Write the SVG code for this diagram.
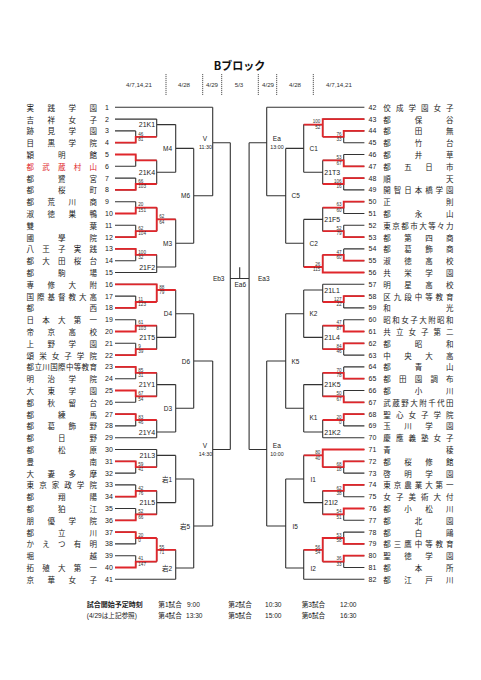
<svg xmlns="http://www.w3.org/2000/svg" width="481" height="680" viewBox="0 0 481 680">
<style>
text{dominant-baseline:central}
.nm{font-family:"Noto Sans CJK JP",sans-serif;font-size:7.5px;fill:#222}
.red{fill:#e0262b}
.no{font-family:"Liberation Sans",Arial,sans-serif;font-size:7px;fill:#222}
.sc{font-family:"Liberation Sans",Arial,sans-serif;font-size:4.6px;fill:#333}
.lb{font-family:"Liberation Sans",Arial,"Noto Sans CJK JP",sans-serif;font-size:7px;fill:#222}
.lb2{font-family:"Liberation Sans",Arial,"Noto Sans CJK JP",sans-serif;font-size:6.5px;fill:#222}
.tm{font-family:"Liberation Sans",Arial,sans-serif;font-size:5.3px;fill:#222}
.dt{font-family:"Liberation Sans",Arial,sans-serif;font-size:6.2px;fill:#333}
.ft{font-family:"Liberation Sans","Noto Sans CJK JP",sans-serif;font-size:6.6px;fill:#222}
.ftb{font-family:"Noto Sans CJK JP",sans-serif;font-size:7px;font-weight:bold;fill:#222}
.e{text-anchor:end}.m{text-anchor:middle}
.k{fill:none;stroke:#333;stroke-width:1.1}
.r{fill:none;stroke:#e0262b;stroke-width:1.8}
.d{fill:none;stroke:#555;stroke-width:1;stroke-dasharray:1.2 0.8}
</style>

<g id="header">
<text x="239.5" y="65" class="m" style="font-family:'Noto Sans CJK JP',sans-serif;font-size:11px;font-weight:bold;fill:#111">Bブロック</text>
<text class="dt m" x="139" y="84.3">4/7,14,21</text>
<text class="dt m" x="184" y="84.3">4/28</text>
<text class="dt m" x="212" y="84.3">4/29</text>
<text class="dt m" x="239" y="84.3">5/3</text>
<text class="dt m" x="268" y="84.3">4/29</text>
<text class="dt m" x="295" y="84.3">4/28</text>
<text class="dt m" x="339" y="84.3">4/7,14,21</text>
<path class="d" d="M166 74V95M202.7 74V95M221.7 74V95M258.3 74V95M276.7 74V95M313.3 74V95"/>
</g>

<g id="connectors">
<path class="k" d="M115 107.3H212.7M115 119.1H156.7M115 130.9H135.7M115 142.7H135.7M115 154.5H135.7M115 166.3H135.7M115 178.1H135.7M115 189.9H135.7M115 201.7H135.7M115 213.5H135.7M115 225.3H135.7M115 237.1H135.7M115 248.9H135.7M115 260.7H135.7M115 272.5H156.7M115 284.3H156.7M115 296.1H135.7M115 307.9H135.7M115 319.7H135.7M115 331.5H135.7M115 343.3H135.7M115 355.1H135.7M115 366.9H135.7M115 378.7H135.7M115 390.5H135.7M115 402.3H135.7M115 414.1H135.7M115 425.9H135.7M115 437.7H156.7M115 449.5H156.7M115 461.3H135.7M115 473.1H135.7M115 484.9H135.7M115 496.7H135.7M115 508.5H135.7M115 520.3H135.7M115 532.1H135.7M115 543.9H135.7M115 555.7H135.7M115 567.5H135.7M115 579.3H175.7"/>
<path class="k" d="M135.7 130.9V142.7M135.7 136.8H156.7M135.7 154.5V166.3M135.7 160.4H156.7M135.7 178.1V189.9M135.7 184H156.7M135.7 201.7V213.5M135.7 207.6H156.7M135.7 225.3V237.1M135.7 231.2H156.7M135.7 248.9V260.7M135.7 254.8H156.7M135.7 296.1V307.9M135.7 302H156.7M135.7 319.7V331.5M135.7 325.6H156.7M135.7 343.3V355.1M135.7 349.2H156.7M135.7 366.9V378.7M135.7 372.8H156.7M135.7 390.5V402.3M135.7 396.4H156.7M135.7 414.1V425.9M135.7 420H156.7M135.7 461.3V473.1M135.7 467.2H156.7M135.7 484.9V496.7M135.7 490.8H156.7M135.7 508.5V520.3M135.7 514.4H156.7M135.7 532.1V543.9M135.7 538H156.7M135.7 555.7V567.5M135.7 561.6H156.7"/>
<path class="k" d="M156.7 119.1V136.8M156.7 124.6H175.7M156.7 160.4V184M156.7 172.2H175.7M156.7 207.6V231.2M156.7 219.4H175.7M156.7 254.8V272.5M156.7 267H175.7M156.7 284.3V302M156.7 290H175.7M156.7 325.6V349.2M156.7 337.4H175.7M156.7 372.8V396.4M156.7 384.6H175.7M156.7 420V437.7M156.7 432H175.7M156.7 449.5V467.2M156.7 455.4H175.7M156.7 490.8V514.4M156.7 502.6H175.7M156.7 538V561.6M156.7 549.8H175.7"/>
<path class="k" d="M175.7 124.6V172.2M175.7 148.4H193.7M175.7 219.4V267M175.7 243.2H193.7M175.7 290V337.4M175.7 313.7H193.7M175.7 384.6V432M175.7 408.3H193.7M175.7 455.4V502.6M175.7 479H193.7M175.7 549.8V579.3M175.7 568H193.7"/>
<path class="k" d="M193.7 148.4V243.2M193.7 195.8H212.7M193.7 313.7V408.3M193.7 361H212.7M193.7 479V568M193.7 526H212.7M212.7 107.3V195.8M212.7 142.7H230.3M212.7 361V526M212.7 449.5H230.3"/>
<path class="k" d="M230.3 142.7V449.5M230.3 278.5H249.1M249.1 142.7V449.5M239.7 267.3V278.5"/>
<path class="k" d="M364.4 107.3H266.7M364.4 119.1H322.7M364.4 130.9H343.7M364.4 142.7H343.7M364.4 154.5H343.7M364.4 166.3H343.7M364.4 178.1H343.7M364.4 189.9H343.7M364.4 201.7H343.7M364.4 213.5H343.7M364.4 225.3H343.7M364.4 237.1H343.7M364.4 248.9H343.7M364.4 260.7H343.7M364.4 272.5H322.7M364.4 284.3H322.7M364.4 296.1H343.7M364.4 307.9H343.7M364.4 319.7H343.7M364.4 331.5H343.7M364.4 343.3H343.7M364.4 355.1H343.7M364.4 366.9H343.7M364.4 378.7H343.7M364.4 390.5H343.7M364.4 402.3H343.7M364.4 414.1H343.7M364.4 425.9H343.7M364.4 437.7H322.7M364.4 449.5H322.7M364.4 461.3H343.7M364.4 473.1H343.7M364.4 484.9H343.7M364.4 496.7H343.7M364.4 508.5H343.7M364.4 520.3H343.7M364.4 532.1H343.7M364.4 543.9H343.7M364.4 555.7H343.7M364.4 567.5H343.7M364.4 579.3H303.7"/>
<path class="k" d="M343.7 130.9V142.7M343.7 136.8H322.7M343.7 154.5V166.3M343.7 160.4H322.7M343.7 178.1V189.9M343.7 184H322.7M343.7 201.7V213.5M343.7 207.6H322.7M343.7 225.3V237.1M343.7 231.2H322.7M343.7 248.9V260.7M343.7 254.8H322.7M343.7 296.1V307.9M343.7 302H322.7M343.7 319.7V331.5M343.7 325.6H322.7M343.7 343.3V355.1M343.7 349.2H322.7M343.7 366.9V378.7M343.7 372.8H322.7M343.7 390.5V402.3M343.7 396.4H322.7M343.7 414.1V425.9M343.7 420H322.7M343.7 461.3V473.1M343.7 467.2H322.7M343.7 484.9V496.7M343.7 490.8H322.7M343.7 508.5V520.3M343.7 514.4H322.7M343.7 532.1V543.9M343.7 538H322.7M343.7 555.7V567.5M343.7 561.6H322.7"/>
<path class="k" d="M322.7 119.1V136.8M322.7 124.6H303.7M322.7 160.4V184M322.7 172.2H303.7M322.7 207.6V231.2M322.7 219.4H303.7M322.7 254.8V272.5M322.7 267H303.7M322.7 284.3V302M322.7 290H303.7M322.7 325.6V349.2M322.7 337.4H303.7M322.7 372.8V396.4M322.7 384.6H303.7M322.7 420V437.7M322.7 432H303.7M322.7 449.5V467.2M322.7 455.4H303.7M322.7 490.8V514.4M322.7 502.6H303.7M322.7 538V561.6M322.7 549.8H303.7"/>
<path class="k" d="M303.7 124.6V172.2M303.7 148.4H285.7M303.7 219.4V267M303.7 243.2H285.7M303.7 290V337.4M303.7 313.7H285.7M303.7 384.6V432M303.7 408.3H285.7M303.7 455.4V502.6M303.7 479H285.7M303.7 549.8V579.3M303.7 568H285.7"/>
<path class="k" d="M285.7 148.4V243.2M285.7 195.8H266.7M285.7 313.7V408.3M285.7 361H266.7M285.7 479V568M285.7 526H266.7M266.7 107.3V195.8M266.7 142.7H249.1M266.7 361V526M266.7 449.5H249.1"/>
<path class="r" d="M115 142.7H135.7V136.8H156.7M115 154.5H135.7V160.4H156.7M115 189.9H135.7V184H156.7M115 213.5H135.7V207.6H156.7M115 237.1H135.7V231.2H156.7M156.7 207.6V231.2M156.7 219.4H175.7M115 248.9H135.7V254.8H156.7M115 284.3H156.7V302M156.7 290H175.7M115 307.9H135.7V302H156.7M115 331.5H135.7V325.6H156.7M115 355.1H135.7V349.2H156.7M115 366.9H135.7V372.8H156.7M115 390.5H135.7V396.4H156.7M115 414.1H135.7V420H156.7M115 461.3H135.7V467.2H156.7M115 496.7H135.7V490.8H156.7M115 520.3H135.7V514.4H156.7M115 532.1H135.7V538H156.7M115 567.5H135.7V561.6H156.7M156.7 538V561.6M156.7 549.8H175.7"/>
<path class="r" d="M364.4 119.1H322.7V136.8M322.7 124.6H303.7M364.4 130.9H343.7V136.8H322.7M364.4 166.3H343.7V160.4H322.7M364.4 178.1H343.7V184H322.7M364.4 201.7H343.7V207.6H322.7M364.4 237.1H343.7V231.2H322.7M364.4 260.7H343.7V254.8H322.7M364.4 272.5H322.7V254.8M322.7 267H303.7M364.4 296.1H343.7V302H322.7M364.4 331.5H343.7V325.6H322.7M364.4 343.3H343.7V349.2H322.7M364.4 378.7H343.7V372.8H322.7M364.4 402.3H343.7V396.4H322.7M364.4 414.1H343.7V420H322.7M364.4 449.5H322.7V467.2M322.7 455.4H303.7M364.4 461.3H343.7V467.2H322.7M364.4 484.9H343.7V490.8H322.7M364.4 508.5H343.7V514.4H322.7M364.4 543.9H343.7V538H322.7V561.6M322.7 549.8H303.7M364.4 555.7H343.7V561.6H322.7"/>
</g>

<g id="scores">
<text class="sc" x="138.3" y="134">46</text><text class="sc" x="138.3" y="139.4">81</text>
<text class="sc" x="138.3" y="181.2">66</text><text class="sc" x="138.3" y="186.6">103</text>
<text class="sc" x="138.3" y="204.8">20</text><text class="sc" x="138.3" y="210.2">151</text>
<text class="sc" x="138.3" y="228.4">62</text><text class="sc" x="138.3" y="233.8">104</text>
<text class="sc" x="138.3" y="252">100</text><text class="sc" x="138.3" y="257.4">32</text>
<text class="sc" x="138.3" y="299.2">11</text><text class="sc" x="138.3" y="304.6">123</text>
<text class="sc" x="138.3" y="322.8">61</text><text class="sc" x="138.3" y="328.2">103</text>
<text class="sc" x="138.3" y="346.4">9</text><text class="sc" x="138.3" y="351.8">39</text>
<text class="sc" x="138.3" y="370">85</text><text class="sc" x="138.3" y="375.4">31</text>
<text class="sc" x="138.3" y="393.6">67</text><text class="sc" x="138.3" y="399">54</text>
<text class="sc" x="138.3" y="417.2">83</text><text class="sc" x="138.3" y="422.6">46</text>
<text class="sc" x="138.3" y="464.4">59</text><text class="sc" x="138.3" y="469.8">41</text>
<text class="sc" x="138.3" y="488">42</text><text class="sc" x="138.3" y="493.4">76</text>
<text class="sc" x="138.3" y="511.6">52</text><text class="sc" x="138.3" y="517">66</text>
<text class="sc" x="138.3" y="535.2">20</text><text class="sc" x="138.3" y="540.6">0</text>
<text class="sc" x="138.3" y="558.8">41</text><text class="sc" x="138.3" y="564.2">147</text>
<text class="sc" x="159.3" y="216.6">62</text><text class="sc" x="159.3" y="222">64</text>
<text class="sc" x="159.3" y="287.2">88</text><text class="sc" x="159.3" y="292.6">79</text>
<text class="sc" x="159.3" y="547">55</text><text class="sc" x="159.3" y="552.4">71</text>
<text class="sc e" x="341.6" y="134">76</text><text class="sc e" x="341.6" y="139.4">33</text>
<text class="sc e" x="341.6" y="157.6">53</text><text class="sc e" x="341.6" y="163">67</text>
<text class="sc e" x="341.6" y="181.2">106</text><text class="sc e" x="341.6" y="186.6">16</text>
<text class="sc e" x="341.6" y="204.8">63</text><text class="sc e" x="341.6" y="210.2">60</text>
<text class="sc e" x="341.6" y="228.4">52</text><text class="sc e" x="341.6" y="233.8">79</text>
<text class="sc e" x="341.6" y="252">47</text><text class="sc e" x="341.6" y="257.4">60</text>
<text class="sc e" x="341.6" y="299.2">127</text><text class="sc e" x="341.6" y="304.6">22</text>
<text class="sc e" x="341.6" y="322.8">47</text><text class="sc e" x="341.6" y="328.2">87</text>
<text class="sc e" x="341.6" y="346.4">84</text><text class="sc e" x="341.6" y="351.8">46</text>
<text class="sc e" x="341.6" y="370">70</text><text class="sc e" x="341.6" y="375.4">78</text>
<text class="sc e" x="341.6" y="393.6">50</text><text class="sc e" x="341.6" y="399">67</text>
<text class="sc e" x="341.6" y="417.2">20</text><text class="sc e" x="341.6" y="422.6">0</text>
<text class="sc e" x="341.6" y="464.4">68</text><text class="sc e" x="341.6" y="469.8">18</text>
<text class="sc e" x="341.6" y="488">62</text><text class="sc e" x="341.6" y="493.4">38</text>
<text class="sc e" x="341.6" y="511.6">54</text><text class="sc e" x="341.6" y="517">51</text>
<text class="sc e" x="341.6" y="535.2">53</text><text class="sc e" x="341.6" y="540.6">58</text>
<text class="sc e" x="341.6" y="558.8">36</text><text class="sc e" x="341.6" y="564.2">33</text>
<text class="sc e" x="320.4" y="121.8">100</text><text class="sc e" x="320.4" y="127.2">52</text>
<text class="sc e" x="320.4" y="264.2">26</text><text class="sc e" x="320.4" y="269.6">115</text>
<text class="sc e" x="320.4" y="452.6">80</text><text class="sc e" x="320.4" y="458">40</text>
<text class="sc e" x="320.4" y="547">56</text><text class="sc e" x="320.4" y="552.4">54</text>
</g>

<g id="m21K1"><text class="lb e" x="155.2" y="124.6">21K1</text></g>
<g id="m21K4"><text class="lb e" x="155.2" y="172.2">21K4</text></g>
<g id="m21F2"><text class="lb e" x="155.2" y="267">21F2</text></g>
<g id="m21T5"><text class="lb e" x="155.2" y="337.4">21T5</text></g>
<g id="m21Y1"><text class="lb e" x="155.2" y="384.6">21Y1</text></g>
<g id="m21Y4"><text class="lb e" x="155.2" y="432">21Y4</text></g>
<g id="m21L3"><text class="lb e" x="155.2" y="455.4">21L3</text></g>
<g id="m21L5"><text class="lb e" x="155.2" y="502.6">21L5</text></g>
<g id="mM4"><text class="lb2 e" x="172" y="148.4">M4</text></g>
<g id="mM3"><text class="lb2 e" x="172" y="243.2">M3</text></g>
<g id="mD4"><text class="lb2 e" x="172" y="313.7">D4</text></g>
<g id="mD3"><text class="lb2 e" x="172" y="408.3">D3</text></g>
<g id="mI1"><text class="lb2 e" x="172" y="479">岩1</text></g>
<g id="mI2"><text class="lb2 e" x="172" y="568">岩2</text></g>
<g id="mM6"><text class="lb2 e" x="190" y="195.8">M6</text></g>
<g id="mD6"><text class="lb2 e" x="190" y="361">D6</text></g>
<g id="mI5"><text class="lb2 e" x="190" y="526">岩5</text></g>
<g id="mV1"><text class="lb2 m" x="205" y="138">V</text><text class="tm m" x="205.5" y="147.4">11:30</text></g>
<g id="mV2"><text class="lb2 m" x="205" y="445">V</text><text class="tm m" x="205.5" y="454">14:30</text></g>
<g id="mEb3"><text class="lb2 e" x="224.5" y="278.3">Eb3</text></g>
<g id="mEa6"><text class="lb2 m" x="240.3" y="284.5">Ea6</text></g>
<g id="mEa3"><text class="lb2" x="258" y="278">Ea3</text></g>
<g id="mEa1"><text class="lb2 m" x="276.8" y="138">Ea</text><text class="tm m" x="277" y="147.4">13:00</text></g>
<g id="mEa2"><text class="lb2 m" x="276.8" y="445">Ea</text><text class="tm m" x="277" y="454">10:00</text></g>
<g id="mC5"><text class="lb2" x="291.5" y="195.8">C5</text></g>
<g id="mK5"><text class="lb2" x="291.5" y="361">K5</text></g>
<g id="mI5r"><text class="lb2" x="292.5" y="526">I5</text></g>
<g id="mC1"><text class="lb2" x="309.5" y="148.4">C1</text></g>
<g id="mC2"><text class="lb2" x="309.5" y="243.2">C2</text></g>
<g id="mK2"><text class="lb2" x="309.5" y="313.7">K2</text></g>
<g id="mK1"><text class="lb2" x="309.5" y="417">K1</text></g>
<g id="mI1r"><text class="lb2" x="310.5" y="479">I1</text></g>
<g id="mI2r"><text class="lb2" x="310.5" y="568">I2</text></g>
<g id="m21T3"><text class="lb" x="324.3" y="172.2">21T3</text></g>
<g id="m21F5"><text class="lb" x="324.3" y="219.4">21F5</text></g>
<g id="m21L1"><text class="lb" x="324.3" y="290">21L1</text></g>
<g id="m21L4"><text class="lb" x="324.3" y="337.4">21L4</text></g>
<g id="m21K5"><text class="lb" x="324.3" y="384.6">21K5</text></g>
<g id="m21K2"><text class="lb" x="324.3" y="432">21K2</text></g>
<g id="m21I2"><text class="lb" x="324.3" y="502.6">21I2</text></g>

<g id="t1"><text class="nm" x="26.6 47.5 68.5 89.4" y="107.3">実践学園</text><text class="no" x="105" y="107.3">1</text></g>
<g id="t2"><text class="nm" x="26.6 47.5 68.5 89.4" y="119.1">吉祥女子</text><text class="no" x="105" y="119.1">2</text></g>
<g id="t3"><text class="nm" x="26.6 47.5 68.5 89.4" y="130.9">跡見学園</text><text class="no" x="105" y="130.9">3</text></g>
<g id="t4"><text class="nm" x="26.6 47.5 68.5 89.4" y="142.7">目黒学院</text><text class="no" x="105" y="142.7">4</text></g>
<g id="t5"><text class="nm" x="26.6 58 89.4" y="154.5">穎明館</text><text class="no" x="105" y="154.5">5</text></g>
<g id="t6"><text class="nm red" x="26.6 42.3 58 73.7 89.4" y="166.3">都武蔵村山</text><text class="no" x="105" y="166.3">6</text></g>
<g id="t7"><text class="nm" x="26.6 58 89.4" y="178.1">都鷺宮</text><text class="no" x="105" y="178.1">7</text></g>
<g id="t8"><text class="nm" x="26.6 58 89.4" y="189.9">都桜町</text><text class="no" x="105" y="189.9">8</text></g>
<g id="t9"><text class="nm" x="26.6 47.5 68.5 89.4" y="201.7">都荒川商</text><text class="no" x="105" y="201.7">9</text></g>
<g id="t10"><text class="nm" x="26.6 47.5 68.5 89.4" y="213.5">淑徳巣鴨</text><text class="no" x="105" y="213.5">10</text></g>
<g id="t11"><text class="nm" x="26.6 89.4" y="225.3">雙葉</text><text class="no" x="105" y="225.3">11</text></g>
<g id="t12"><text class="nm" x="26.6 58 89.4" y="237.1">國學院</text><text class="no" x="105" y="237.1">12</text></g>
<g id="t13"><text class="nm" x="26.6 42.3 58 73.7 89.4" y="248.9">八王子実践</text><text class="no" x="105" y="248.9">13</text></g>
<g id="t14"><text class="nm" x="26.6 42.3 58 73.7 89.4" y="260.7">都大田桜台</text><text class="no" x="105" y="260.7">14</text></g>
<g id="t15"><text class="nm" x="26.6 58 89.4" y="272.5">都駒場</text><text class="no" x="105" y="272.5">15</text></g>
<g id="t16"><text class="nm" x="26.6 47.5 68.5 89.4" y="284.3">専修大附</text><text class="no" x="105" y="284.3">16</text></g>
<g id="t17"><text class="nm" x="26.6 37.1 47.5 58 68.5 78.9 89.4" y="296.1">国際基督教大高</text><text class="no" x="105" y="296.1">17</text></g>
<g id="t18"><text class="nm" x="26.6 89.4" y="307.9">都西</text><text class="no" x="105" y="307.9">18</text></g>
<g id="t19"><text class="nm" x="26.6 42.3 58 73.7 89.4" y="319.7">日本大第一</text><text class="no" x="105" y="319.7">19</text></g>
<g id="t20"><text class="nm" x="26.6 47.5 68.5 89.4" y="331.5">帝京高校</text><text class="no" x="105" y="331.5">20</text></g>
<g id="t21"><text class="nm" x="26.6 47.5 68.5 89.4" y="343.3">上野学園</text><text class="no" x="105" y="343.3">21</text></g>
<g id="t22"><text class="nm" x="26.6 39.2 51.7 64.3 76.8 89.4" y="355.1">頌栄女子学院</text><text class="no" x="105" y="355.1">22</text></g>
<g id="t23"><text class="nm" x="26.6 34.5 42.3 50.2 58 65.9 73.7 81.6 89.4" y="366.9">都立川国際中等教育</text><text class="no" x="105" y="366.9">23</text></g>
<g id="t24"><text class="nm" x="26.6 47.5 68.5 89.4" y="378.7">明治学院</text><text class="no" x="105" y="378.7">24</text></g>
<g id="t25"><text class="nm" x="26.6 47.5 68.5 89.4" y="390.5">大東学園</text><text class="no" x="105" y="390.5">25</text></g>
<g id="t26"><text class="nm" x="26.6 47.5 68.5 89.4" y="402.3">都秋留台</text><text class="no" x="105" y="402.3">26</text></g>
<g id="t27"><text class="nm" x="26.6 58 89.4" y="414.1">都練馬</text><text class="no" x="105" y="414.1">27</text></g>
<g id="t28"><text class="nm" x="26.6 47.5 68.5 89.4" y="425.9">都葛飾野</text><text class="no" x="105" y="425.9">28</text></g>
<g id="t29"><text class="nm" x="26.6 58 89.4" y="437.7">都日野</text><text class="no" x="105" y="437.7">29</text></g>
<g id="t30"><text class="nm" x="26.6 58 89.4" y="449.5">都松原</text><text class="no" x="105" y="449.5">30</text></g>
<g id="t31"><text class="nm" x="26.6 89.4" y="461.3">豊南</text><text class="no" x="105" y="461.3">31</text></g>
<g id="t32"><text class="nm" x="26.6 47.5 68.5 89.4" y="473.1">大妻多摩</text><text class="no" x="105" y="473.1">32</text></g>
<g id="t33"><text class="nm" x="26.6 39.2 51.7 64.3 76.8 89.4" y="484.9">東京家政学院</text><text class="no" x="105" y="484.9">33</text></g>
<g id="t34"><text class="nm" x="26.6 58 89.4" y="496.7">都翔陽</text><text class="no" x="105" y="496.7">34</text></g>
<g id="t35"><text class="nm" x="26.6 58 89.4" y="508.5">都狛江</text><text class="no" x="105" y="508.5">35</text></g>
<g id="t36"><text class="nm" x="26.6 47.5 68.5 89.4" y="520.3">朋優学院</text><text class="no" x="105" y="520.3">36</text></g>
<g id="t37"><text class="nm" x="26.6 58 89.4" y="532.1">都立川</text><text class="no" x="105" y="532.1">37</text></g>
<g id="t38"><text class="nm" x="26.6 42.3 58 73.7 89.4" y="543.9">かえつ有明</text><text class="no" x="105" y="543.9">38</text></g>
<g id="t39"><text class="nm" x="26.6 89.4" y="555.7">堀越</text><text class="no" x="105" y="555.7">39</text></g>
<g id="t40"><text class="nm" x="26.6 42.3 58 73.7 89.4" y="567.5">拓殖大第一</text><text class="no" x="105" y="567.5">40</text></g>
<g id="t41"><text class="nm" x="26.6 47.5 68.5 89.4" y="579.3">京華女子</text><text class="no" x="105" y="579.3">41</text></g>

<g id="t42"><text class="no" x="368.5" y="107.3">42</text><text class="nm" x="383.3 395.9 408.4 421 433.5 446.1" y="107.3">佼成学園女子</text></g>
<g id="t43"><text class="no" x="368.5" y="119.1">43</text><text class="nm" x="383.3 414.7 446.1" y="119.1">都保谷</text></g>
<g id="t44"><text class="no" x="368.5" y="130.9">44</text><text class="nm" x="383.3 414.7 446.1" y="130.9">都田無</text></g>
<g id="t45"><text class="no" x="368.5" y="142.7">45</text><text class="nm" x="383.3 414.7 446.1" y="142.7">都竹台</text></g>
<g id="t46"><text class="no" x="368.5" y="154.5">46</text><text class="nm" x="383.3 414.7 446.1" y="154.5">都井草</text></g>
<g id="t47"><text class="no" x="368.5" y="166.3">47</text><text class="nm" x="383.3 404.2 425.2 446.1" y="166.3">都五日市</text></g>
<g id="t48"><text class="no" x="368.5" y="178.1">48</text><text class="nm" x="383.3 446.1" y="178.1">順天</text></g>
<g id="t49"><text class="no" x="368.5" y="189.9">49</text><text class="nm" x="383.3 393.8 404.2 414.7 425.2 435.6 446.1" y="189.9">開智日本橋学園</text></g>
<g id="t50"><text class="no" x="368.5" y="201.7">50</text><text class="nm" x="383.3 446.1" y="201.7">正則</text></g>
<g id="t51"><text class="no" x="368.5" y="213.5">51</text><text class="nm" x="383.3 414.7 446.1" y="213.5">都永山</text></g>
<g id="t52"><text class="no" x="368.5" y="225.3">52</text><text class="nm" x="383.3 392.3 401.2 410.2 419.2 428.2 437.1 446.1" y="225.3">東京都市大等々力</text></g>
<g id="t53"><text class="no" x="368.5" y="237.1">53</text><text class="nm" x="383.3 404.2 425.2 446.1" y="237.1">都第四商</text></g>
<g id="t54"><text class="no" x="368.5" y="248.9">54</text><text class="nm" x="383.3 404.2 425.2 446.1" y="248.9">都葛飾商</text></g>
<g id="t55"><text class="no" x="368.5" y="260.7">55</text><text class="nm" x="383.3 404.2 425.2 446.1" y="260.7">淑徳高校</text></g>
<g id="t56"><text class="no" x="368.5" y="272.5">56</text><text class="nm" x="383.3 404.2 425.2 446.1" y="272.5">共栄学園</text></g>
<g id="t57"><text class="no" x="368.5" y="284.3">57</text><text class="nm" x="383.3 404.2 425.2 446.1" y="284.3">明星高校</text></g>
<g id="t58"><text class="no" x="368.5" y="296.1">58</text><text class="nm" x="383.3 393.8 404.2 414.7 425.2 435.6 446.1" y="296.1">区九段中等教育</text></g>
<g id="t59"><text class="no" x="368.5" y="307.9">59</text><text class="nm" x="383.3 446.1" y="307.9">和光</text></g>
<g id="t60"><text class="no" x="368.5" y="319.7">60</text><text class="nm" x="383.3 392.3 401.2 410.2 419.2 428.2 437.1 446.1" y="319.7">昭和女子大附昭和</text></g>
<g id="t61"><text class="no" x="368.5" y="331.5">61</text><text class="nm" x="383.3 395.9 408.4 421 433.5 446.1" y="331.5">共立女子第二</text></g>
<g id="t62"><text class="no" x="368.5" y="343.3">62</text><text class="nm" x="383.3 414.7 446.1" y="343.3">都昭和</text></g>
<g id="t63"><text class="no" x="368.5" y="355.1">63</text><text class="nm" x="383.3 404.2 425.2 446.1" y="355.1">中央大高</text></g>
<g id="t64"><text class="no" x="368.5" y="366.9">64</text><text class="nm" x="383.3 414.7 446.1" y="366.9">都青山</text></g>
<g id="t65"><text class="no" x="368.5" y="378.7">65</text><text class="nm" x="383.3 399 414.7 430.4 446.1" y="378.7">都田園調布</text></g>
<g id="t66"><text class="no" x="368.5" y="390.5">66</text><text class="nm" x="383.3 414.7 446.1" y="390.5">都小川</text></g>
<g id="t67"><text class="no" x="368.5" y="402.3">67</text><text class="nm" x="383.3 392.3 401.2 410.2 419.2 428.2 437.1 446.1" y="402.3">武蔵野大附千代田</text></g>
<g id="t68"><text class="no" x="368.5" y="414.1">68</text><text class="nm" x="383.3 395.9 408.4 421 433.5 446.1" y="414.1">聖心女子学院</text></g>
<g id="t69"><text class="no" x="368.5" y="425.9">69</text><text class="nm" x="383.3 404.2 425.2 446.1" y="425.9">玉川学園</text></g>
<g id="t70"><text class="no" x="368.5" y="437.7">70</text><text class="nm" x="383.3 395.9 408.4 421 433.5 446.1" y="437.7">慶應義塾女子</text></g>
<g id="t71"><text class="no" x="368.5" y="449.5">71</text><text class="nm" x="383.3 446.1" y="449.5">青稜</text></g>
<g id="t72"><text class="no" x="368.5" y="461.3">72</text><text class="nm" x="383.3 404.2 425.2 446.1" y="461.3">都桜修館</text></g>
<g id="t73"><text class="no" x="368.5" y="473.1">73</text><text class="nm" x="383.3 404.2 425.2 446.1" y="473.1">啓明学園</text></g>
<g id="t74"><text class="no" x="368.5" y="484.9">74</text><text class="nm" x="383.3 393.8 404.2 414.7 425.2 435.6 446.1" y="484.9">東京農業大第一</text></g>
<g id="t75"><text class="no" x="368.5" y="496.7">75</text><text class="nm" x="383.3 395.9 408.4 421 433.5 446.1" y="496.7">女子美術大付</text></g>
<g id="t76"><text class="no" x="368.5" y="508.5">76</text><text class="nm" x="383.3 404.2 425.2 446.1" y="508.5">都小松川</text></g>
<g id="t77"><text class="no" x="368.5" y="520.3">77</text><text class="nm" x="383.3 414.7 446.1" y="520.3">都北園</text></g>
<g id="t78"><text class="no" x="368.5" y="532.1">78</text><text class="nm" x="383.3 414.7 446.1" y="532.1">都白鷗</text></g>
<g id="t79"><text class="no" x="368.5" y="543.9">79</text><text class="nm" x="383.3 393.8 404.2 414.7 425.2 435.6 446.1" y="543.9">都三鷹中等教育</text></g>
<g id="t80"><text class="no" x="368.5" y="555.7">80</text><text class="nm" x="383.3 404.2 425.2 446.1" y="555.7">聖徳学園</text></g>
<g id="t81"><text class="no" x="368.5" y="567.5">81</text><text class="nm" x="383.3 414.7 446.1" y="567.5">都本所</text></g>
<g id="t82"><text class="no" x="368.5" y="579.3">82</text><text class="nm" x="383.3 404.2 425.2 446.1" y="579.3">都江戸川</text></g>

<g id="footer">
<text class="ftb" x="86.7" y="604">試合開始予定時刻</text>
<text class="ft" x="158.3" y="604">第1試合</text><text class="ft" x="187" y="604">9:00</text>
<text class="ft" x="228.3" y="604">第2試合</text><text class="ft" x="265" y="604">10:30</text>
<text class="ft" x="301.7" y="604">第3試合</text><text class="ft" x="340" y="604">12:00</text>
<text class="ft" x="86.7" y="615.7">(4/29は上記参照)</text>
<text class="ft" x="158.3" y="615.7">第4試合</text><text class="ft" x="186" y="615.7">13:30</text>
<text class="ft" x="228.3" y="615.7">第5試合</text><text class="ft" x="265" y="615.7">15:00</text>
<text class="ft" x="301.7" y="615.7">第6試合</text><text class="ft" x="340" y="615.7">16:30</text>
</g>
</svg>
